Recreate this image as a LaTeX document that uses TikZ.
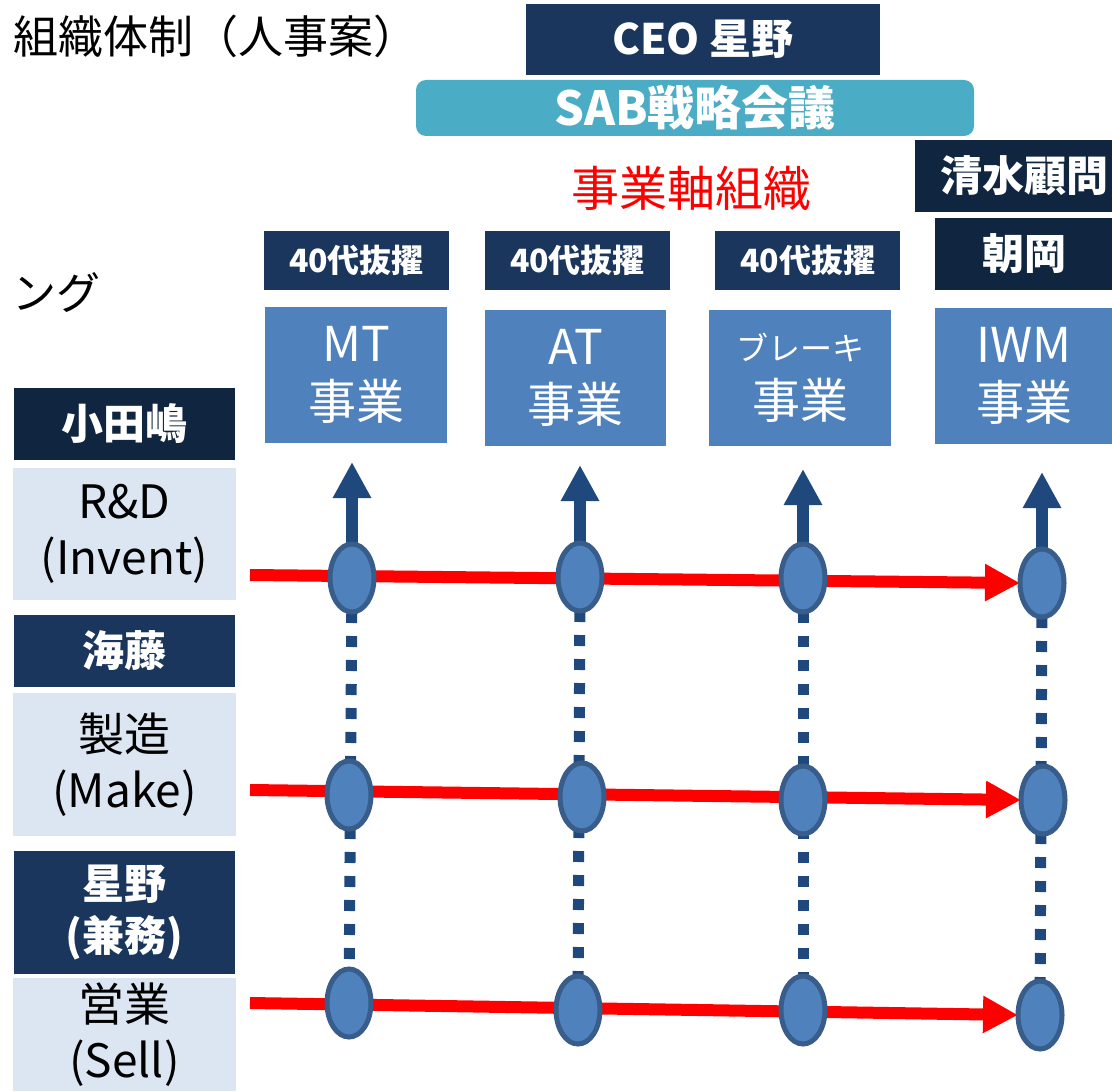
\documentclass[tikz,border=0pt]{standalone}
\usepackage{fontspec}
\setmainfont{Noto Sans CJK JP}
\usetikzlibrary{shapes.geometric,arrows.meta}
\definecolor{navy}{HTML}{1A365D}
\definecolor{deepnavy}{HTML}{10253F}
\definecolor{sabcol}{HTML}{4BACC6}
\definecolor{bizblue}{HTML}{4F81BD}
\definecolor{lightbg}{HTML}{DCE6F2}
\definecolor{arrowblue}{HTML}{1F497D}
\definecolor{ringblue}{HTML}{385D8A}
\pgfdeclarelayer{bg}
\pgfsetlayers{bg,main}
\newcommand{\fsz}[2]{\fontsize{#1}{#2}\selectfont}
\begin{document}
\begin{tikzpicture}[x=0.5pt,y=-0.5pt,
  every node/.style={inner sep=0pt,outer sep=0pt},
  navybox/.style={fill=navy,text=white,font=\fsz{21pt}{26pt}\bfseries,align=center},
  deepbox/.style={fill=deepnavy,text=white,font=\fsz{21pt}{26pt}\bfseries,align=center},
  pickbox/.style={fill=navy,text=white,font=\fsz{16pt}{20pt}\bfseries,minimum width=92.5pt,minimum height=29.5pt},
  bizbox/.style={fill=bizblue,text=white,font=\fsz{24pt}{29pt},align=center,minimum height=68pt},
  rolebox/.style={fill=lightbg,text=black,font=\fsz{23pt}{28pt},align=center,minimum width=111.5pt},
  dot/.style={ellipse,fill=bizblue,draw=ringblue,line width=2.5pt,minimum width=22pt,minimum height=34pt},
  redline/.style={draw=red,line width=6pt,-{Triangle[length=17.5pt,width=17.5pt]}},
  uparrow/.style={draw=arrowblue,line width=6pt,-{Triangle[length=18pt,width=18pt]}},
  dotline/.style={draw=arrowblue,line width=5.5pt,dash pattern=on 5.5pt off 6.5pt}
]
\clip (0,0) rectangle (1112,1091);

% title and cut-off text
\node[anchor=west,font=\fsz{22.5pt}{27pt}] (title) at (13,36) {組織体制（人事案）};
\node[anchor=west,font=\fsz{22pt}{27pt}] (ngu) at (12,293) {ング};

% top boxes
\node[navybox,minimum width=177pt,minimum height=35.5pt] (ceo) at (703,39.5) {CEO 星野};
\node[fill=sabcol,rounded corners=5pt,text=white,font=\fsz{23.5pt}{28pt}\bfseries,minimum width=279pt,minimum height=28pt] (sab) at (695,108) {SAB戦略会議};
\node[text=red,font=\fsz{24pt}{30pt}] (axis) at (691,188) {事業軸組織};
\node[deepbox,minimum width=109pt,minimum height=36pt] (shimizu) at (1024,176) {清水顧問};
\node[deepbox,minimum width=89pt,minimum height=36pt] (asaoka) at (1024,254) {朝岡};

% 40s boxes
\node[pickbox] (p1) at (356.5,260.5) {40代抜擢};
\node[pickbox] (p2) at (577.5,260.5) {40代抜擢};
\node[pickbox] (p3) at (807.5,260.5) {40代抜擢};

% business boxes
\node[bizbox,minimum width=91pt] (mt) at (356,374.5) {MT\\事業};
\node[bizbox,minimum width=90.5pt] (at) at (575.5,377.5) {AT\\事業};
\node[bizbox,minimum width=91pt] (brake) at (800,377.5) {{\fsz{16pt}{24pt}ブレーキ}\\事業};
\node[bizbox,minimum width=89pt] (iwm) at (1024,375.5) {IWM\\事業};

% left column
\node[deepbox,minimum width=110.5pt,minimum height=36pt] (odajima) at (124,424) {小田嶋};
\node[rolebox,minimum height=66pt] (rd) at (124.5,534) {R\&D\\(Invent)};
\node[navybox,minimum width=110.5pt,minimum height=36pt] (kaito) at (124,651) {海藤};
\node[rolebox,minimum height=71.5pt] (make) at (124.5,764.5) {製造\\(Make)};
\node[navybox,minimum width=110.5pt,minimum height=61.5pt] (hoshino) at (124,912.5) {星野\\(兼務)};
\node[rolebox,minimum height=56.5pt] (sell) at (124.5,1034.5) {営業\\(Sell)};

% ellipses
\node[dot] (e11) at (352,578) {};
\node[dot] (e12) at (580,577) {};
\node[dot] (e13) at (803,578) {};
\node[dot] (e14) at (1042,583) {};
\node[dot] (e21) at (349,795) {};
\node[dot] (e22) at (582,797) {};
\node[dot] (e23) at (803,800) {};
\node[dot] (e24) at (1043,800) {};
\node[dot] (e31) at (349,1003) {};
\node[dot] (e32) at (578,1010) {};
\node[dot] (e33) at (803,1010) {};
\node[dot] (e34) at (1040,1015) {};

% free ends
\coordinate (r1) at (250,575);
\coordinate (r2) at (250,790);
\coordinate (r3) at (250,1003);
\coordinate (u1) at (352,462);
\coordinate (u2) at (580,465);
\coordinate (u3) at (803,469);
\coordinate (u4) at (1042,472);

\begin{pgfonlayer}{bg}
  \draw[dotline] (e11) -- (e31);
  \draw[dotline] (e12) -- (e32);
  \draw[dotline] (e13) -- (e33);
  \draw[dotline] (e14) -- (e34);
  \draw[redline] (r1) -- (e14.west);
  \draw[redline] (r2) -- (e24.west);
  \draw[redline] (r3) -- (e34.west);
  \draw[uparrow] (e11.center) -- (u1);
  \draw[uparrow] (e12.center) -- (u2);
  \draw[uparrow] (e13.center) -- (u3);
  \draw[uparrow] (e14.center) -- (u4);
\end{pgfonlayer}
\end{tikzpicture}
\end{document}
